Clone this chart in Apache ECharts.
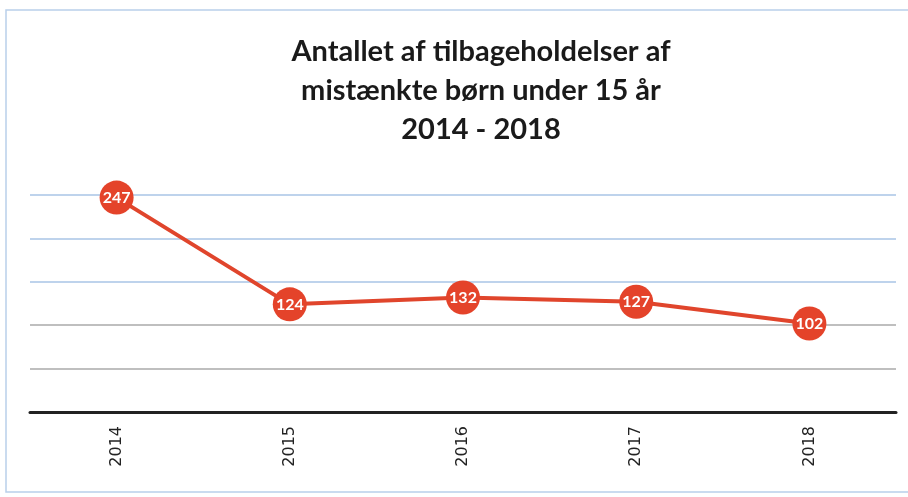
<!DOCTYPE html>
<html lang="da">
<head>
    <meta charset="utf-8">
    <title>Tilbageholdelser</title>
    <script src="https://cdn.jsdelivr.net/npm/echarts@6/dist/echarts.min.js"></script>
</head>
<body style="margin:0; background:#fff;">
    <div id="main" style="width:908px; height:497px;"></div>

<script type="text/javascript">
var years = ['2014', '2015', '2016', '2017', '2018'];
var counts = [247, 124, 132, 127, 102];
var titleText = 'Antallet af tilbageholdelser af\nmistænkte børn under 15 år\n2014 - 2018';

var myChart = echarts.init(document.getElementById('main'));

// gridlines: upper ones light blue, lower ones grey (index 0 sits under the axis)
var gridColors = ['#888', '#aaa', '#aaa', '#a9c4e6', '#a9c4e6', '#a9c4e6'];

myChart.setOption({
    backgroundColor: '#fff',
    animation: false,
    title: {
        text: titleText,
        left: 476,
        textAlign: 'center',
        top: 27,
        textStyle: {
            fontFamily: 'Lato',
            fontWeight: 'bold',
            fontSize: 29,
            lineHeight: 39,
            color: '#1a1a1a'
        }
    },
    graphic: [{
        type: 'rect',
        shape: { x: 6, y: 10, width: 910, height: 482 },
        style: { fill: 'none', stroke: '#b9d0ea', lineWidth: 1.5 },
        silent: true
    }],
    grid: { left: 30, right: 12, top: 195, bottom: 85 },
    xAxis: {
        type: 'category',
        data: years,
        axisLine: { lineStyle: { color: '#222', width: 3 } },
        axisTick: { show: false },
        axisLabel: {
            rotate: 90,
            margin: 14,
            fontFamily: 'DejaVu Sans',
            fontSize: 16,
            color: '#222'
        }
    },
    yAxis: {
        type: 'value',
        min: 0,
        max: 250,
        interval: 50,
        axisLabel: { show: false },
        axisLine: { show: false },
        axisTick: { show: false },
        splitLine: { lineStyle: { color: gridColors, width: 1.5 } }
    },
    series: [{
        type: 'line',
        data: counts,
        symbol: 'circle',
        symbolSize: 34,
        lineStyle: { color: '#e0452c', width: 4 },
        itemStyle: { color: '#e4432a' },
        label: {
            show: true,
            position: 'inside',
            color: '#fff',
            fontFamily: 'Lato',
            fontWeight: 'bold',
            fontSize: 16
        },
        z: 3
    }]
});
</script>
</body>
</html>
